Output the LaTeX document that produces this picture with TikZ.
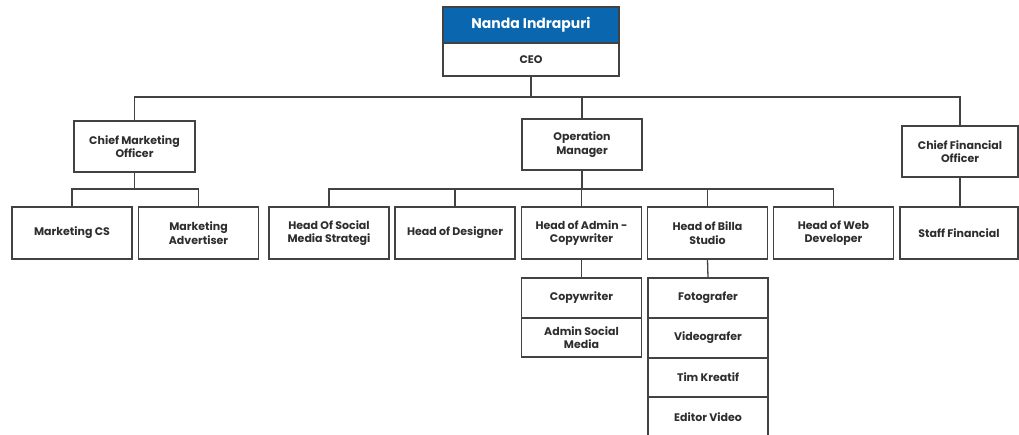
\documentclass[tikz,border=0pt]{standalone}
\usepackage{fontspec}
\setmainfont{Poppins}
\usepackage{tikz}
\definecolor{ceoblue}{HTML}{0A66AE}
\definecolor{linegray}{HTML}{424242}
\definecolor{txtgray}{HTML}{2E2E2E}

\begin{document}
\begin{tikzpicture}[x=1pt, y=-1pt,
    box/.style={draw=linegray, line width=1.3pt, fill=white, align=center,
      text=txtgray, font=\fontsize{11}{13.3}\selectfont\bfseries,
      minimum width=120pt, minimum height=52pt, inner sep=2pt},
    sub/.style={box, minimum height=40pt},
    link/.style={draw=linegray, line width=1.3pt}]
    \useasboundingbox (0,0) rectangle (1019,435);
    \coordinate (bus1) at (0, 97);
    \coordinate (bus2) at (0, 189);
    \node[box, minimum width=176pt, minimum height=36pt, fill=ceoblue, text=white,
      font=\fontsize{14}{16}\selectfont\bfseries] (name) at (531, 25) {Nanda Indrapuri};
    \node[box, minimum width=176pt, minimum height=33pt] (ceo) at (531, 59.5) {CEO};
    \node[box, minimum width=121pt, minimum height=51pt] (cmo) at (134.5, 146.5) {Chief Marketing\\Officer};
    \node[box, minimum height=51pt] (opm) at (582, 144.5) {Operation\\Manager};
    \node[box, minimum width=116pt, minimum height=51pt] (cfo) at (960, 151.5) {Chief Financial\\Officer};
    \node[box] (mcs) at (72, 233) {Marketing CS};
    \node[box] (madv) at (198.5, 233) {Marketing\\Advertiser};
    \node[box] (hsoc) at (329, 233) {Head Of Social\\Media Strategi};
    \node[box] (hdes) at (455, 233) {Head of Designer};
    \node[box] (hadm) at (581.5, 233) {Head of Admin -\\Copywriter};
    \node[box] (hbil) at (707.5, 233) {Head of Billa\\Studio};
    \node[box] (hweb) at (833.5, 233) {Head of Web\\Developer};
    \node[box, minimum width=118pt] (staff) at (959, 233) {Staff Financial};
    \node[sub] (copy) at (581.5, 298) {Copywriter};
    \node[sub, minimum height=39pt] (asm) at (581.5, 337.5) {Admin Social\\Media};
    \node[sub] (foto) at (708, 298) {Fotografer};
    \node[sub] (video) at (708, 338) {Videografer};
    \node[sub, minimum height=39pt] (tim) at (708, 377.5) {Tim Kreatif};
    \node[sub] (edit) at (708, 417) {Editor Video};
    \draw[link] (ceo.south) -- (ceo.south |- bus1);
    \draw[link] (cmo.north) -- (cmo.north |- bus1) -- (cfo.north |- bus1) -- (cfo.north);
    \draw[link] (opm.north) -- (opm.north |- bus1);
    \draw[link] (cmo.south) -- (cmo.south |- bus2);
    \draw[link] (mcs.north) -- (mcs.north |- bus2) -- (madv.north |- bus2) -- (madv.north);
    \draw[link] (opm.south) -- (opm.south |- bus2);
    \draw[link] (hsoc.north) -- (hsoc.north |- bus2) -- (hweb.north |- bus2) -- (hweb.north);
    \draw[link] (hdes.north) -- (hdes.north |- bus2);
    \draw[link] (hadm.north) -- (hadm.north |- bus2);
    \draw[link] (hbil.north) -- (hbil.north |- bus2);
    \draw[link] (cfo.south) -- (cfo.south |- staff.north);
    \draw[link] (hadm.south) -- (copy.north);
    \draw[link] (hbil.south) -- (foto.north);
  \end{tikzpicture}
\end{document}
